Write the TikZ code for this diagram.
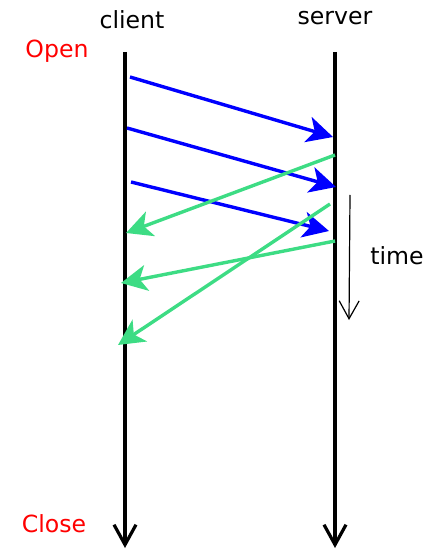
\documentclass[tikz,border=0pt]{standalone}
\usepackage{fontspec}
\setmainfont{DejaVu Sans}
\usetikzlibrary{arrows.meta}
\definecolor{ackgreen}{RGB}{61,220,132}
\begin{document}
\begin{tikzpicture}[x=0.5pt, y=-0.5pt,
		life/.style = {line width=1.6pt, -{Straight Barb[length=10pt, width=11pt, line width=1.6pt]}},
		msg/.style = {blue, line width=1.7pt, -{Stealth[length=13pt, width=13pt, inset=3.5pt]}},
		ack/.style = {ackgreen, line width=1.7pt, -{Stealth[length=13pt, width=13pt, inset=3.5pt]}},
		lbl/.style = {font=\fontsize{11.8}{14}\selectfont, inner sep=0pt},
		tick/.style = {line width=0.6pt, -{Straight Barb[length=9pt, width=10pt, line width=0.6pt]}}
		]
		\useasboundingbox (0, 0) rectangle (433, 549);
		
		%Nodes
		\node[lbl]	(client)	at	(132, 20)	{client};
		\node[lbl]	(server)	at	(335, 18)	{server};
		\node[lbl, red]	(open)	at	(57, 51)	{Open};
		\node[lbl, red]	(close)	at	(54, 524)	{Close};
		\node[lbl]	(time)	at	(397, 256)	{time};
		
		%Points
		\coordinate	(c0)	at	(125, 52);
		\coordinate	(c1)	at	(125, 548);
		\coordinate	(s0)	at	(335, 52);
		\coordinate	(s1)	at	(335, 548);
		\coordinate	(t0)	at	(350, 195);
		\coordinate	(t1)	at	(349, 320);
		\coordinate	(m1a)	at	(130, 77);
		\coordinate	(m1b)	at	(333, 137);
		\coordinate	(m2a)	at	(127, 128);
		\coordinate	(m2b)	at	(336, 187);
		\coordinate	(m3a)	at	(131, 182);
		\coordinate	(m3b)	at	(329, 231);
		\coordinate	(r1a)	at	(335, 155);
		\coordinate	(r1b)	at	(126, 233);
		\coordinate	(r2a)	at	(330, 204);
		\coordinate	(r2b)	at	(118, 345);
		\coordinate	(r3a)	at	(335, 241);
		\coordinate	(r3b)	at	(121, 283);
		
		%Lines
		\draw[life]	(c0)	--	(c1);
		\draw[life]	(s0)	--	(s1);
		\draw[tick]	(t0)	--	(t1);
		\draw[msg]	(m1a)	--	(m1b);
		\draw[msg]	(m2a)	--	(m2b);
		\draw[msg]	(m3a)	--	(m3b);
		\draw[ack]	(r1a)	--	(r1b);
		\draw[ack]	(r2a)	--	(r2b);
		\draw[ack]	(r3a)	--	(r3b);
	\end{tikzpicture}
\end{document}
